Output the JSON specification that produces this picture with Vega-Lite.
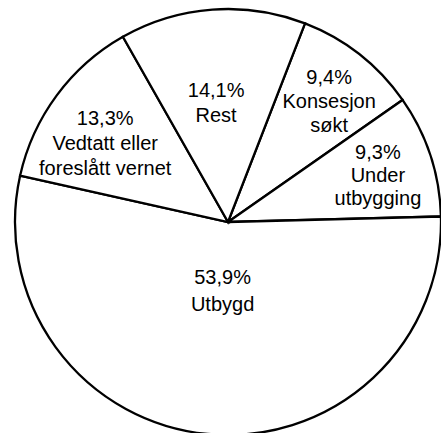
{
  "$schema": "https://vega.github.io/schema/vega-lite/v6.json",
  "autosize": {"type": "none"},
  "padding": 0,
  "width": 456,
  "height": 444,
  "background": "white",
  "view": {"stroke": null},
  "data": {
    "values": [
      {"slice": 1, "category": "Konsesjon søkt", "value": 9.4, "label": "9,4%\nKonsesjon\nsøkt"},
      {"slice": 2, "category": "Under utbygging", "value": 9.3, "label": "9,3%\nUnder\nutbygging"},
      {"slice": 3, "category": "Utbygd", "value": 53.9, "label": "53,9%\nUtbygd"},
      {"slice": 4, "category": "Vedtatt eller foreslått vernet", "value": 13.3, "label": "13,3%\nVedtatt eller\nforeslått vernet"},
      {"slice": 5, "category": "Rest", "value": 14.1, "label": "14,1%\nRest"}
    ]
  },
  "encoding": {
    "theta": {
      "field": "value",
      "type": "quantitative",
      "stack": true,
      "scale": {"type": "linear", "domain": [0, 100], "range": [0.370, 6.653]}
    },
    "order": {"field": "slice", "type": "quantitative", "sort": "ascending"}
  },
  "layer": [
    {
      "mark": {"type": "arc", "radius": 213, "fill": "white", "stroke": "black", "strokeWidth": 2.3}
    },
    {
      "mark": {"type": "text", "radius": 176, "thetaOffset": -0.053, "font": "Liberation Sans", "fontSize": 20, "lineHeight": 24, "lineBreak": "\n", "align": "center", "baseline": "middle", "fill": "black"},
      "encoding": {"text": {"condition": {"test": "datum.category === 'Konsesjon søkt'", "field": "label"}, "value": ""}}
    },
    {
      "mark": {"type": "text", "radius": 165, "thetaOffset": -0.113, "font": "Liberation Sans", "fontSize": 20, "lineHeight": 23, "lineBreak": "\n", "align": "center", "baseline": "middle", "fill": "black"},
      "encoding": {"text": {"condition": {"test": "datum.category === 'Under utbygging'", "field": "label"}, "value": ""}}
    },
    {
      "mark": {"type": "text", "radius": 56, "thetaOffset": 0, "font": "Liberation Sans", "fontSize": 20, "lineHeight": 27, "lineBreak": "\n", "align": "center", "baseline": "middle", "fill": "black"},
      "encoding": {"text": {"condition": {"test": "datum.category === 'Utbygd'", "field": "label"}, "value": ""}}
    },
    {
      "mark": {"type": "text", "radius": 160, "thetaOffset": 0.059, "font": "Liberation Sans", "fontSize": 20, "lineHeight": 25, "lineBreak": "\n", "align": "center", "baseline": "middle", "fill": "black"},
      "encoding": {"text": {"condition": {"test": "datum.category === 'Vedtatt eller foreslått vernet'", "field": "label"}, "value": ""}}
    },
    {
      "mark": {"type": "text", "radius": 132, "thetaOffset": -0.017, "font": "Liberation Sans", "fontSize": 20, "lineHeight": 25, "lineBreak": "\n", "align": "center", "baseline": "middle", "fill": "black"},
      "encoding": {"text": {"condition": {"test": "datum.category === 'Rest'", "field": "label"}, "value": ""}}
    }
  ]
}
